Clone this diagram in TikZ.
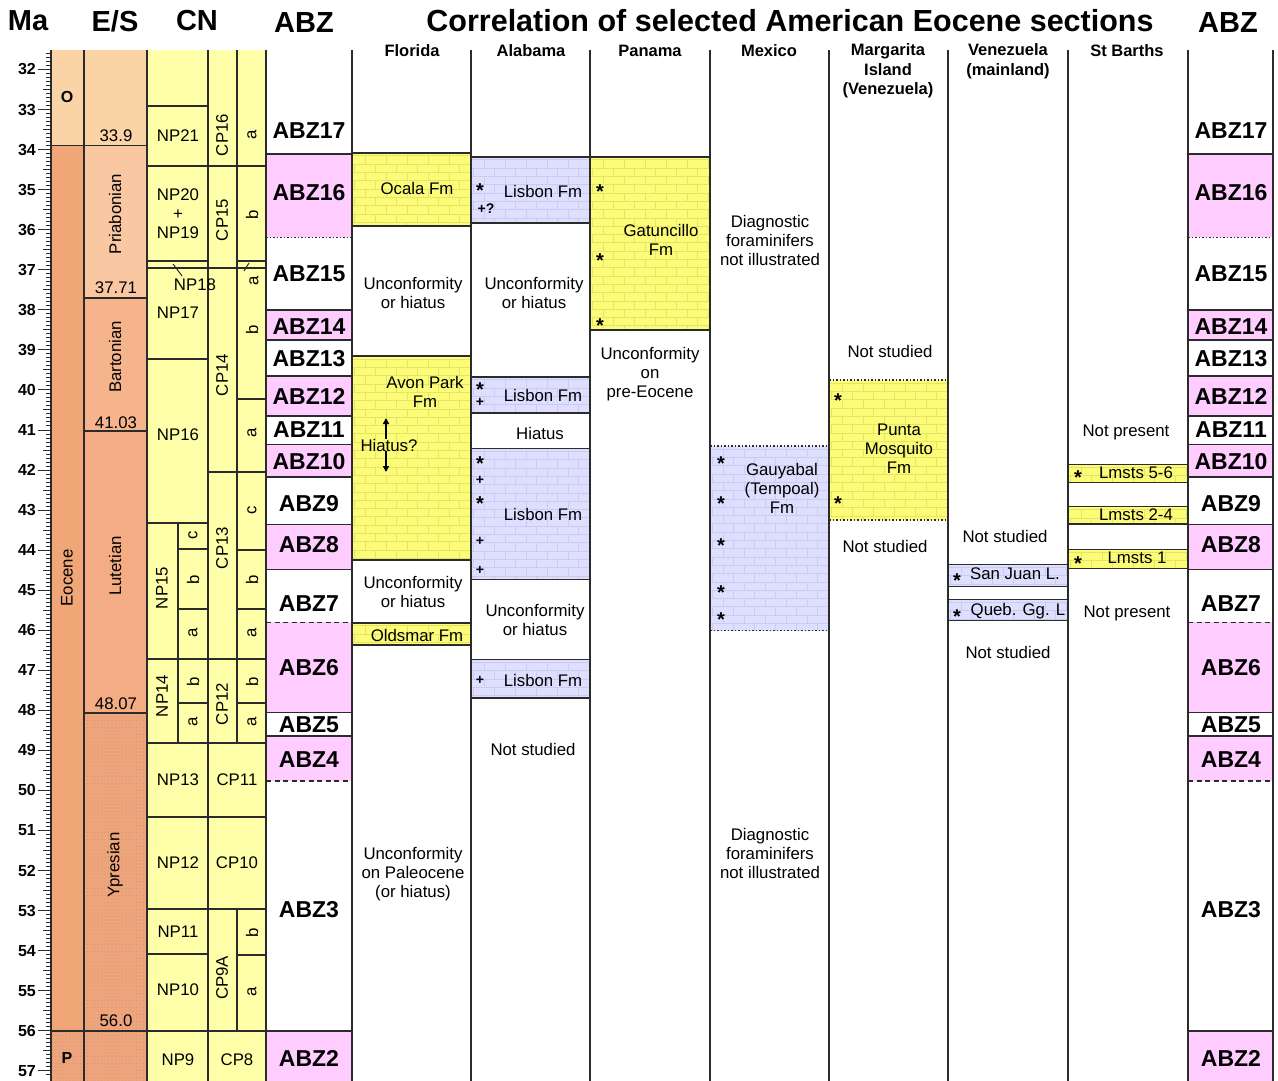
\documentclass[tikz,border=0pt]{standalone}
\usepackage{fontspec}
\setmainfont{Liberation Sans}
\usetikzlibrary{arrows.meta,patterns.meta}
\definecolor{linec}{HTML}{2B2B2B}
\definecolor{ocol}{HTML}{FAD3A6}
\definecolor{eocol}{HTML}{F0A676}
\definecolor{pria}{HTML}{F9C7A1}
\definecolor{bart}{HTML}{F6B48C}
\definecolor{lut}{HTML}{F3AC84}
\definecolor{ypr}{HTML}{EFA57B}
\definecolor{dotc}{HTML}{B98A78}
\definecolor{cny}{HTML}{FFFFAA}
\definecolor{pinkz}{HTML}{FFCCFF}
\definecolor{fmy}{HTML}{FCFC78}
\definecolor{fmyl}{HTML}{E4E466}
\definecolor{fml}{HTML}{DEDEFF}
\definecolor{fmll}{HTML}{CBCBF0}
\newcommand\bricks[6]{%
 \begin{scope}
 \clip (#1,#2) rectangle (#3,#4);
 \fill[#5] (#1,#2) rectangle (#3,#4);
 \pgfmathtruncatemacro\nrows{ceil((#4-#2)/8.3)}
 \foreach \k in {0,...,\nrows}{
  \pgfmathsetmacro\yy{#2+3+\k*8.3}
  \pgfmathsetmacro\off{mod(\k,2)*10.5}
  \draw[#6,line width=0.6pt] (#1,\yy) -- (#3,\yy);
  \foreach \j in {0,...,6}{\draw[#6,line width=0.6pt] ({#1+\off+\j*21-8},\yy) -- ++(0,8.3);}
 }
 \end{scope}}
\newcommand\fmbox[7]{\bricks{#1}{#2}{#3}{#4}{#5}{#6}%
 \draw[#7] (#1,#2) -- (#3,#2); \draw[#7] (#1,#4) -- (#3,#4);}
\begin{document}
\begin{tikzpicture}[x=1pt,y=-1pt,
  txt/.style={font=\fontsize{16.8}{19}\selectfont, align=center, inner sep=0pt},
  hdr/.style={font=\bfseries\fontsize{16.5}{19.5}\selectfont, align=center, inner sep=0pt},
  big/.style={font=\bfseries\fontsize{29}{32}\selectfont, inner sep=0pt},
  ttl/.style={font=\bfseries\fontsize{30.5}{32}\selectfont, inner sep=0pt},
  abz/.style={font=\bfseries\fontsize{23}{26}\selectfont, inner sep=0pt},
  rot/.style={rotate=90},
  axl/.style={font=\bfseries\fontsize{16}{18}\selectfont, inner sep=0pt, anchor=east},
  star/.style={font=\bfseries\fontsize{20}{20}\selectfont, inner sep=0pt, anchor=north},
  plus/.style={font=\bfseries\fontsize{14}{15}\selectfont, inner sep=0pt},
  colline/.style={line width=2pt, draw=linec},
  bnd/.style={line width=1.6pt, draw=linec},
  thinb/.style={line width=1.3pt, draw=linec},
  dotb/.style={line width=1.4pt, draw=linec, dash pattern=on 1.5pt off 2pt},
  dashb/.style={line width=1.6pt, draw=linec, dash pattern=on 5pt off 3.5pt},
  tickl/.style={line width=0.9pt, draw=linec},
  arr/.style={line width=1.5pt, draw=black, -{Triangle[length=6pt,width=6pt]}},
  lead/.style={line width=1pt, draw=linec},
  dotfill/.style={pattern={Dots[radius=0.45pt,distance=3.5pt]}, pattern color=dotc},
]
\useasboundingbox (0,0) rectangle (1278,1081);
\fill[white] (0,0) rectangle (1278,1081);

% ---- epoch / stage fills
\fill[ocol] (51,50) rectangle (84,145.6);
\fill[eocol] (51,145.6) rectangle (84,1030.7);
\fill[ypr] (51,1030.7) rectangle (84,1081);
\fill[dotfill] (51,1030.7) rectangle (84,1081);
\fill[ocol] (84,50) rectangle (147,145.6);
\fill[pria] (84,145.6) rectangle (147,298.2);
\fill[bart] (84,298.2) rectangle (147,431.2);
\fill[lut] (84,431.2) rectangle (147,713.1);
\fill[ypr] (84,713.1) rectangle (147,1081);
\fill[dotfill] (84,713.1) rectangle (147,1081);
% ---- CN fill
\fill[cny] (147,50) rectangle (266,1081);

% ---- ABZ columns
\foreach \xa/\xb in {266/352,1188/1273}{
  \fill[pinkz] (\xa,154) rectangle (\xb,237.3);
  \fill[pinkz] (\xa,310) rectangle (\xb,340);
  \fill[pinkz] (\xa,376) rectangle (\xb,416);
  \fill[pinkz] (\xa,444.3) rectangle (\xb,476.7);
  \fill[pinkz] (\xa,524.3) rectangle (\xb,569.5);
  \fill[pinkz] (\xa,622.3) rectangle (\xb,712.5);
  \fill[pinkz] (\xa,735.7) rectangle (\xb,780.7);
  \fill[pinkz] (\xa,1030.7) rectangle (\xb,1081);
  \foreach \yy in {154,310,340,376,416,444.3,476.7,524.3,569.5,712.5,735.7,1030.7}
     \draw[bnd] (\xa,\yy) -- (\xb,\yy);
  \draw[dotb] (\xa,237.3) -- (\xb,237.3);
  \draw[dashb] (\xa,622.3) -- (\xb,622.3);
  \draw[dashb] (\xa,780.7) -- (\xb,780.7);
}

% ---- formations
% Florida
\fmbox{352}{152.7}{471}{226}{fmy}{fmyl}{bnd}
\fmbox{352}{356}{471}{560}{fmy}{fmyl}{bnd}
\fmbox{352}{622.7}{471}{645}{fmy}{fmyl}{bnd}
% Alabama
\fmbox{471}{156.7}{590}{222.7}{fml}{fmll}{bnd}
\fmbox{471}{376.7}{590}{412.7}{fml}{fmll}{bnd}
\fmbox{471}{448.3}{590}{579.3}{fml}{fmll}{bnd}
\fmbox{471}{659.3}{590}{697.7}{fml}{fmll}{bnd}
% Panama
\fmbox{590}{156.7}{710}{330}{fmy}{fmyl}{bnd}
% Mexico
\fmbox{710}{446}{829}{630.7}{fml}{fmll}{dotb}
% Margarita
\fmbox{829}{380}{948}{520}{fmy}{fmyl}{dotb}
% Venezuela
\fmbox{948}{564.3}{1068}{586.7}{fml}{fmll}{thinb}
\fmbox{948}{599.3}{1068}{620.7}{fml}{fmll}{thinb}
% St Barths
\fmbox{1068}{464.3}{1188}{482.7}{fmy}{fmyl}{thinb}
\fmbox{1068}{506.7}{1188}{524}{fmy}{fmyl}{thinb}
\fmbox{1068}{549.3}{1188}{568.3}{fmy}{fmyl}{thinb}

% ---- stage / epoch boundaries
\draw[bnd] (51,145.6) -- (147,145.6);
\draw[bnd] (51,1030.7) -- (147,1030.7);
\foreach \yy in {298.2,431.2,713.1} \draw[bnd] (84,\yy) -- (147,\yy);

% ---- CN lines
\foreach \yy in {106,166,261,268,359,523,659,743,817,909,954,1030.7} \draw[bnd] (147,\yy) -- (208,\yy);
\foreach \yy in {549,609,703} \draw[bnd] (178,\yy) -- (208,\yy);
\foreach \yy in {166,268,471.7,659,743,817,909,1030.7} \draw[bnd] (208,\yy) -- (237,\yy);
\foreach \yy in {166,261,268,399,471.7,550,609,659,703,743,817,909,955,1030.7} \draw[bnd] (237,\yy) -- (266,\yy);
\draw[colline] (178,523) -- (178,743);
\draw[colline] (237,50) -- (237,743);
\draw[colline] (237,909) -- (237,1030.7);

% ---- vertical lines
\foreach \xx in {51,84,147,208,266,352,471,590,710,829,948,1068,1188,1273}
  \draw[colline] (\xx,50) -- (\xx,1081);

% ---- Ma ticks
\foreach \k in {-4,...,251}{
  \pgfmathsetmacro\yy{69.5+4.005*\k}
  \pgfmathsetmacro\len{ifthenelse(mod(\k,10)==0,13,ifthenelse(mod(\k,5)==0,8,5))}
  \draw[tickl] ({51-\len},\yy) -- (51,\yy);
}
\foreach \m in {32,...,57}{
  \node[axl] (ma\m) at (36,{69.5+40.05*(\m-32)}) {\m};
}

% ---- headers
\node[big] (hMa) at (28,21) {Ma};
\node[big] (hES) at (115,21) {E/S};
\node[big] (hCN) at (197,21) {CN};
\node[big] (hABZl) at (304,23) {ABZ};
\node[ttl] (title) at (790,21) {Correlation of selected American Eocene sections};
\node[big] (hABZr) at (1228,23) {ABZ};
\node[hdr] (cFl) at (412,51) {Florida};
\node[hdr] (cAl) at (531,51) {Alabama};
\node[hdr] (cPa) at (650,51) {Panama};
\node[hdr] (cMx) at (769,51) {Mexico};
\node[hdr] (cMg) at (888,71) {Margarita\\Island\\(Venezuela)};
\node[hdr] (cVe) at (1008,61) {Venezuela\\(mainland)};
\node[hdr] (cSB) at (1127,51) {St Barths};

% ---- epoch / stage labels
\node[font=\bfseries\fontsize{16}{18}\selectfont, inner sep=0pt] (epO) at (67,97) {O};
\node[txt,rot] (epE) at (67,578) {Eocene};
\node[font=\bfseries\fontsize{16}{18}\selectfont, inner sep=0pt] (epP) at (67,1058) {P};
\node[txt,rot] (stP) at (115,214) {Priabonian};
\node[txt,rot] (stB) at (115,357) {Bartonian};
\node[txt,rot] (stL) at (115,566) {Lutetian};
\node[txt,rot] (stY) at (115,865) {Ypresian};
\node[txt] (age1) at (116,136) {33.9};
\node[txt] (age2) at (116,288) {37.71};
\node[txt] (age3) at (116,423) {41.03};
\node[txt] (age4) at (116,704) {48.07};
\node[txt] (age5) at (116,1021) {56.0};

% ---- CN labels
\node[txt] (np21) at (178,136) {NP21};
\node[txt] (np2019) at (178,214) {NP20\\+\\NP19};
\node[txt] (np18) at (195,285) {NP18};
\node[txt] (np17) at (178,313) {NP17};
\node[txt] (np16) at (178,435) {NP16};
\node[txt,rot] (np15) at (162,588) {NP15};
\node[txt,rot] (np15c) at (193,535) {c};
\node[txt,rot] (np15b) at (193,580) {b};
\node[txt,rot] (np15a) at (193,633) {a};
\node[txt,rot] (np14) at (162,696) {NP14};
\node[txt,rot] (np14b) at (193,682) {b};
\node[txt,rot] (np14a) at (193,722) {a};
\node[txt] (np13) at (178,780) {NP13};
\node[txt] (np12) at (178,863) {NP12};
\node[txt] (np11) at (178,932) {NP11};
\node[txt] (np10) at (178,990) {NP10};
\node[txt] (np9) at (178,1060) {NP9};
\node[txt,rot] (cp16) at (222,135) {CP16};
\node[txt,rot] (cp15) at (222,220) {CP15};
\node[txt,rot] (cp14) at (222,375) {CP14};
\node[txt,rot] (cp13) at (222,548) {CP13};
\node[txt,rot] (cp12) at (222,704) {CP12};
\node[txt] (cp11) at (237,780) {CP11};
\node[txt] (cp10) at (237,863) {CP10};
\node[txt,rot] (cp9a) at (222,978) {CP9A};
\node[txt] (cp8) at (237,1060) {CP8};
\node[txt,rot] (s1) at (252,135) {a};
\node[txt,rot] (s2) at (252,215) {b};
\node[txt,rot] (s3) at (254,281) {a};
\node[txt,rot] (s4) at (252,330) {b};
\node[txt,rot] (s5) at (252,433) {a};
\node[txt,rot] (s6) at (252,510) {c};
\node[txt,rot] (s7) at (252,580) {b};
\node[txt,rot] (s8) at (252,633) {a};
\node[txt,rot] (s9) at (252,682) {b};
\node[txt,rot] (s10) at (252,722) {a};
\node[txt,rot] (s11) at (252,933) {b};
\node[txt,rot] (s12) at (252,992) {a};
\coordinate (l18a) at (173,264);
\coordinate (l18b) at (182,276);
\draw[lead] (l18a) -- (l18b);
\coordinate (lsa) at (244,271);
\coordinate (lsb) at (249,263);
\draw[lead] (lsa) -- (lsb);

% ---- ABZ labels
\foreach \xc/\s in {309/L,1231/R}{
  \foreach \n/\yy in {17/131,16/193,15/274,14/326.7,13/359,12/396.7,11/430,10/461.7,9/504,8/545,7/603.3,6/668,5/725,4/760,3/910,2/1058}{
    \node[abz] (abz\n\s) at (\xc,\yy) {ABZ\n};
  }
}

% ---- section texts
\node[txt] (fl1) at (417,188) {Ocala Fm};
\node[txt] (fl2) at (413,293) {Unconformity\\or hiatus};
\node[txt] (fl3) at (425,392) {Avon Park\\Fm};
\node[txt] (fl4) at (389,445) {Hiatus?};
\coordinate (hup) at (386,418);
\coordinate (hdn) at (386,472);
\draw[arr] (fl4.north -| hup) -- (hup);
\draw[arr] (fl4.south -| hdn) -- (hdn);
\node[txt] (fl5) at (413,592) {Unconformity\\or hiatus};
\node[txt] (fl6) at (417,635) {Oldsmar Fm};
\node[txt] (fl7) at (413,874) {Unconformity\\on Paleocene\\(or hiatus)};

\node[txt] (al1) at (543,191) {Lisbon Fm};
\node[txt] (al2) at (534,293) {Unconformity\\or hiatus};
\node[txt] (al3) at (543,395) {Lisbon Fm};
\node[txt] (al4) at (540,433) {Hiatus};
\node[txt] (al5) at (543,514) {Lisbon Fm};
\node[txt] (al6) at (535,620) {Unconformity\\or hiatus};
\node[txt] (al7) at (543,680) {Lisbon Fm};
\node[txt] (al8) at (533,749) {Not studied};

\node[txt] (pa1) at (661,240) {Gatuncillo\\Fm};
\node[txt] (pa2) at (650,374) {Unconformity\\on\\pre-Eocene};

\node[txt] (mx1) at (770,240) {Diagnostic\\foraminifers\\not illustrated};
\node[txt] (mx2) at (782,488) {Gauyabal\\(Tempoal)\\Fm};
\node[txt] (mx3) at (770,853) {Diagnostic\\foraminifers\\not illustrated};

\node[txt] (mg1) at (890,351) {Not studied};
\node[txt] (mg2) at (899,449) {Punta\\Mosquito\\Fm};
\node[txt] (mg3) at (885,546) {Not studied};

\node[txt] (ve1) at (1005,536) {Not studied};
\node[txt] (ve2) at (1015,574) {San Juan L.};
\node[txt] (ve3) at (1018,611) {Queb. Gg. L};
\node[txt] (ve4) at (1008,652) {Not studied};

\node[txt] (sb1) at (1126,432) {Not present};
\node[txt] (sb2) at (1136,473) {Lmsts 5-6};
\node[txt] (sb3) at (1136,515) {Lmsts 2-4};
\node[txt] (sb4) at (1137,558) {Lmsts 1};
\node[txt] (sb5) at (1127,613) {Not present};

% ---- markers
\foreach \xx/\yy [count=\i] in {480/187,480/386,480/460,480/500,600/188,600/257,600/322,721/460,721/500,721/542,721/589,721/616,838/397,838/500,957/577,957/613,1078/474,1078/560}{
  \node[star] (st\i) at (\xx,{\yy-3.5}) {*};
}
\foreach \xx/\yy [count=\i] in {480/402,480/480,480/541,480/570,480/680}{
  \node[plus] (pl\i) at (\xx,\yy) {+};
}
\node[plus] (plq) at (486,209) {+?};
\end{tikzpicture}
\end{document}
